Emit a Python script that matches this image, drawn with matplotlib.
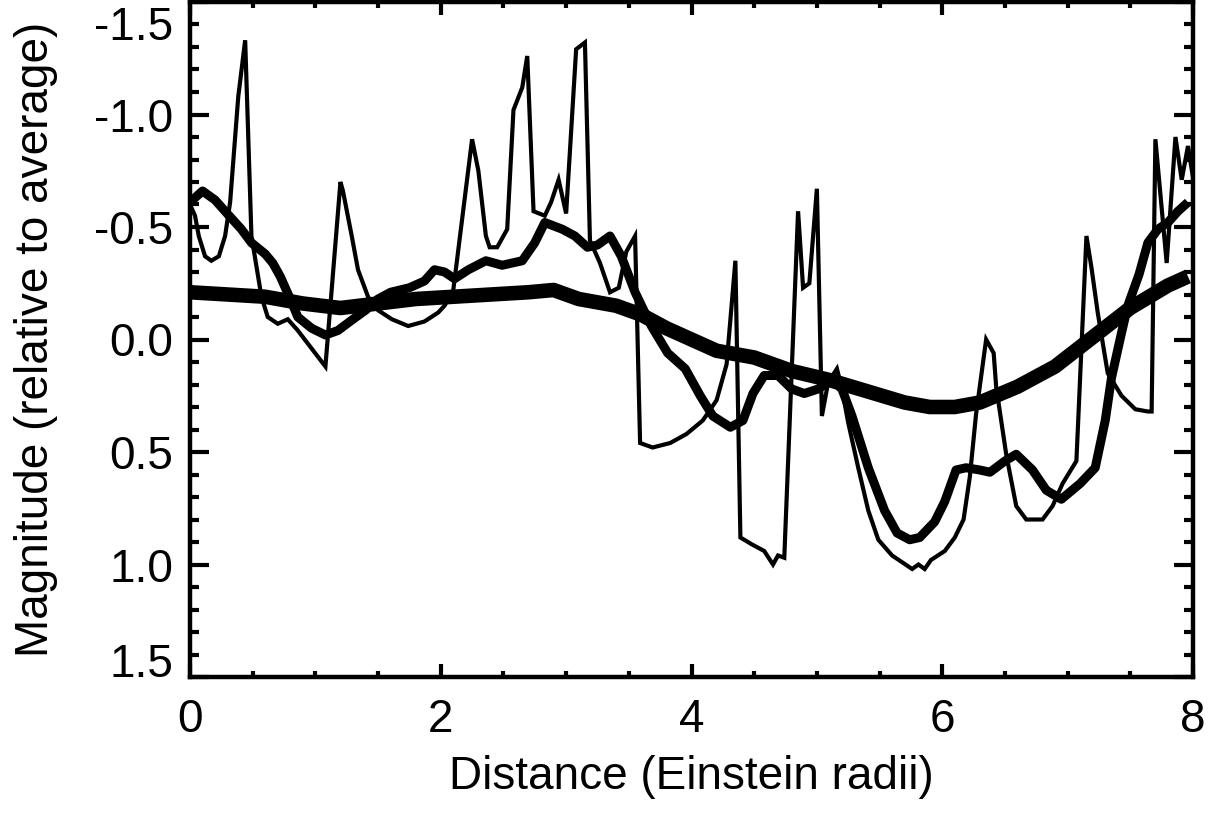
import matplotlib
matplotlib.use('Agg')
import matplotlib.pyplot as plt
from matplotlib.ticker import MultipleLocator
from matplotlib.transforms import ScaledTranslation

plt.rcParams['font.family'] = ['Liberation Sans', 'DejaVu Sans']
plt.rcParams['axes.unicode_minus'] = False

# ---------------- data ----------------
thin_x = [0.00, 0.04, 0.07, 0.12, 0.17, 0.23, 0.28, 0.32, 0.385, 0.44, 0.49, 0.57, 0.62,
          0.70, 0.78, 0.86, 0.97, 1.08, 1.20, 1.22, 1.29, 1.34, 1.42, 1.50, 1.61, 1.74,
          1.87, 1.98, 2.03, 2.10, 2.25, 2.30, 2.36, 2.39, 2.45, 2.53, 2.58, 2.65, 2.69,
          2.74, 2.83, 2.88, 2.94, 3.00, 3.08, 3.15, 3.19, 3.27, 3.35, 3.42, 3.48, 3.55,
          3.59, 3.69, 3.83, 3.96, 4.09, 4.20, 4.28, 4.35, 4.39, 4.48, 4.58, 4.65, 4.69,
          4.74, 4.85, 4.89, 4.94, 5.00, 5.04, 5.09, 5.16, 5.20, 5.25, 5.33, 5.41, 5.49,
          5.60, 5.68, 5.76, 5.81, 5.86, 5.91, 6.02, 6.10, 6.17, 6.22, 6.27, 6.35, 6.41,
          6.43, 6.51, 6.59, 6.67, 6.80, 6.88, 6.96, 7.07, 7.15, 7.19, 7.24, 7.32, 7.43,
          7.54, 7.64, 7.67, 7.70, 7.79, 7.86, 7.91, 7.96, 8.00]
thin_y = [-0.60, -0.55, -0.46, -0.37, -0.35, -0.37, -0.46, -0.61, -1.08, -1.33, -0.46, -0.19, -0.10,
          -0.07, -0.09, -0.04, 0.04, 0.12, -0.70, -0.66, -0.46, -0.31, -0.19, -0.13, -0.09, -0.06,
          -0.08, -0.12, -0.15, -0.22, -0.89, -0.75, -0.46, -0.41, -0.41, -0.49, -1.02, -1.12, -1.26,
          -0.57, -0.55, -0.61, -0.71, -0.56, -1.29, -1.32, -0.44, -0.34, -0.21, -0.23, -0.39, -0.46,
          0.46, 0.48, 0.46, 0.42, 0.36, 0.27, 0.11, -0.35, 0.88, 0.91, 0.94, 1.00, 0.96,
          0.97, -0.57, -0.23, -0.25, -0.67, 0.34, 0.19, 0.13, 0.22, 0.37, 0.57, 0.76, 0.89,
          0.96, 0.99, 1.02, 1.00, 1.02, 0.98, 0.94, 0.88, 0.80, 0.61, 0.33, 0.00, 0.06,
          0.21, 0.51, 0.74, 0.80, 0.80, 0.74, 0.64, 0.54, -0.46, -0.32, -0.12, 0.15, 0.25,
          0.31, 0.32, 0.32, -0.89, -0.34, -0.90, -0.71, -0.86, -0.72]

med_x = [0.00, 0.10, 0.20, 0.28, 0.41, 0.49, 0.60, 0.66, 0.72, 0.80, 0.86, 0.97, 1.08, 1.18,
         1.30, 1.40, 1.50, 1.60, 1.75, 1.87, 1.95, 2.03, 2.11, 2.22, 2.36, 2.49, 2.65, 2.75,
         2.83, 2.97, 3.07, 3.17, 3.25, 3.35, 3.44, 3.55, 3.68, 3.81, 3.95, 4.07, 4.17, 4.31,
         4.41, 4.49, 4.58, 4.69, 4.80, 4.90, 5.01, 5.12, 5.20, 5.28, 5.41, 5.54, 5.64, 5.74,
         5.82, 5.94, 6.02, 6.11, 6.19, 6.30, 6.38, 6.50, 6.59, 6.72, 6.83, 6.95, 7.10, 7.22,
         7.30, 7.35, 7.43, 7.48, 7.57, 7.64, 7.72, 7.80, 7.88, 7.96]
med_y = [-0.61, -0.66, -0.62, -0.57, -0.49, -0.43, -0.38, -0.34, -0.28, -0.18, -0.10, -0.05, -0.02, -0.04,
         -0.09, -0.13, -0.18, -0.21, -0.23, -0.26, -0.31, -0.30, -0.27, -0.31, -0.35, -0.33, -0.35, -0.43,
         -0.52, -0.49, -0.46, -0.41, -0.42, -0.46, -0.37, -0.21, -0.06, 0.06, 0.13, 0.25, 0.34, 0.39,
         0.36, 0.24, 0.16, 0.16, 0.22, 0.24, 0.22, 0.18, 0.22, 0.34, 0.57, 0.76, 0.86, 0.89,
         0.88, 0.81, 0.72, 0.58, 0.57, 0.58, 0.59, 0.54, 0.51, 0.58, 0.67, 0.71, 0.64, 0.57,
         0.36, 0.17, -0.03, -0.15, -0.29, -0.43, -0.49, -0.52, -0.57, -0.61]

thick_x = [0.0, 0.3, 0.6, 0.9, 1.2, 1.5, 1.8, 2.1, 2.4, 2.7, 2.9, 3.1, 3.4, 3.6, 3.8, 4.0,
           4.2, 4.5, 4.8, 5.1, 5.4, 5.7, 5.9, 6.1, 6.3, 6.6, 6.9, 7.2, 7.5, 7.8, 7.96]
thick_y = [-0.21, -0.20, -0.19, -0.16, -0.14, -0.16, -0.18, -0.19, -0.20, -0.21, -0.22, -0.18, -0.15,
           -0.11, -0.05, 0.00, 0.05, 0.08, 0.14, 0.18, 0.23, 0.28, 0.30, 0.30, 0.28, 0.21, 0.12,
           -0.01, -0.14, -0.24, -0.28]

x_ticks = [0, 2, 4, 6, 8]
x_tick_labels = ['0', '2', '4', '6', '8']
y_ticks = [-1.5, -1.0, -0.5, 0.0, 0.5, 1.0, 1.5]
y_tick_labels = ['-1.5', '-1.0', '-0.5', '0.0', '0.5', '1.0', '1.5']
x_label = 'Distance (Einstein radii)'
y_label = 'Magnitude (relative to average)'

# ---------------- figure ----------------
W, H = 1217, 836
fig = plt.figure(figsize=(W / 100, H / 100), dpi=100)
ax = fig.add_axes([190 / W, 1 - 677 / H, (1193 - 190) / W, (677 - 2) / H])

ax.plot(thick_x, thick_y, color='black', lw=10.5, solid_joinstyle='round', solid_capstyle='butt')
ax.plot(med_x, med_y, color='black', lw=6.5, solid_joinstyle='round', solid_capstyle='butt')
ax.plot(thin_x, thin_y, color='black', lw=3.0, solid_joinstyle='miter', solid_capstyle='butt')

ax.set_xlim(0, 8)
ax.set_ylim(1.5, -1.5)
ax.set_xticks(x_ticks)
ax.set_xticklabels(x_tick_labels)
ax.xaxis.set_minor_locator(MultipleLocator(0.5))
ax.set_yticks(y_ticks)
ax.set_yticklabels(y_tick_labels)
ax.yaxis.set_minor_locator(MultipleLocator(0.1))

ax.tick_params(which='both', direction='in', top=True, right=True, width=3,
               labelsize=33, colors='black')
ax.tick_params(axis='x', which='major', length=9.4, pad=15)
ax.tick_params(axis='x', which='minor', length=4.5)
ax.tick_params(axis='y', which='major', length=13.5, pad=12)
ax.tick_params(axis='y', which='minor', length=6.5)
for s in ax.spines.values():
    s.set_linewidth(3.2)

ax.set_xlabel(x_label, fontsize=33)
ax.set_ylabel(y_label, fontsize=33)
ax.xaxis.set_label_coords(0.5, (677 - 755) / 675)
ax.yaxis.set_label_coords((58 - 190) / 1003, 0.5)

ylabs = ax.get_yticklabels()
ylabs[0].set_va('top')
ylabs[0].set_transform(ylabs[0].get_transform() + ScaledTranslation(0, -3 / 72, fig.dpi_scale_trans))
ylabs[-1].set_va('baseline')

fig.savefig('out.png', dpi=100)
